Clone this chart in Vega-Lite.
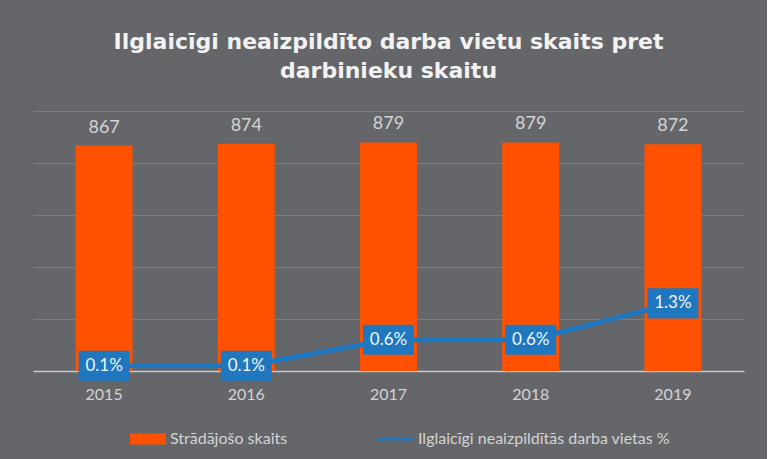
{
  "$schema": "https://vega.github.io/schema/vega-lite/v6.json",
  "autosize": {"type": "none"},
  "width": 711,
  "height": 260,
  "padding": {"left": 33, "top": 111, "right": 23, "bottom": 88},
  "background": "#65666a",
  "title": {
    "text": ["Ilglaicīgi neaizpildīto darba vietu skaits pret", "darbinieku skaitu"],
    "font": "DejaVu Sans",
    "fontSize": 22,
    "fontWeight": "bold",
    "color": "#f2f2f2",
    "anchor": "middle",
    "lineHeight": 29,
    "offset": 28
  },
  "config": {
    "view": {"stroke": null},
    "font": "Lato"
  },
  "data": {
    "values": [
      {"year": "2015", "count": 867, "pct": 0.001},
      {"year": "2016", "count": 874, "pct": 0.001},
      {"year": "2017", "count": 879, "pct": 0.006},
      {"year": "2018", "count": 879, "pct": 0.006},
      {"year": "2019", "count": 872, "pct": 0.013}
    ]
  },
  "encoding": {
    "x": {
      "field": "year",
      "type": "ordinal",
      "scale": {"paddingInner": 0.6, "paddingOuter": 0.3},
      "axis": {
        "title": null,
        "labelAngle": 0,
        "labelFont": "Lato",
        "labelFontSize": 16,
        "labelColor": "#d4d4d4",
        "labelPadding": 15,
        "ticks": false,
        "domainColor": "#c8c8c8",
        "domainWidth": 1.5,
        "grid": false
      }
    }
  },
  "layer": [
    {
      "layer": [
        {
          "mark": {"type": "bar", "color": "#ff5100"},
          "encoding": {
            "y": {
              "field": "count",
              "type": "quantitative",
              "scale": {"domain": [0, 1000]},
              "axis": {
                "title": null,
                "labels": false,
                "ticks": false,
                "domain": false,
                "values": [0, 200, 400, 600, 800, 1000],
                "gridColor": "#7c7d81",
                "gridWidth": 1
              }
            },
            "color": {
              "datum": "Strādājošo skaits",
              "type": "nominal",
              "scale": {
                "domain": ["Strādājošo skaits", "Ilglaicīgi neaizpildītās darba vietas %"],
                "range": ["#ff5100", "#1f77c0"]
              },
              "legend": {
                "title": null,
                "orient": "none",
                "legendX": 97,
                "legendY": 310,
                "direction": "horizontal",
                "labelFont": "Lato",
                "labelFontSize": 16,
                "labelColor": "#d4d4d4",
                "symbolSize": 1296,
                "symbolStrokeWidth": 0,
                "labelOffset": 4,
                "columnPadding": 90,
                "labelLimit": 400,
                "encode": {
                  "symbols": {
                    "update": {
                      "shape": {"signal": "datum.value === 'Strādājošo skaits' ? 'M-1,-0.3L1,-0.3L1,0.3L-1,0.3Z' : 'M-1,-0.08L1,-0.08L1,0.08L-1,0.08Z'"},
                      "fill": {"signal": "datum.value === 'Strādājošo skaits' ? '#ff5100' : '#1f77c0'"},
                      "stroke": {"value": "transparent"},
                      "opacity": {"value": 1}
                    }
                  }
                }
              }
            }
          }
        },
        {
          "mark": {"type": "text", "baseline": "alphabetic", "dy": -13, "fontSize": 18, "color": "#d4d4d4", "font": "Lato"},
          "encoding": {
            "y": {"field": "count", "type": "quantitative"},
            "text": {"field": "count", "type": "quantitative"}
          }
        }
      ]
    },
    {
      "layer": [
        {
          "mark": {"type": "line", "strokeWidth": 5, "color": "#1f77c0"},
          "encoding": {
            "y": {"field": "pct", "type": "quantitative", "scale": {"domain": [0, 0.05]}, "axis": null},
            "color": {"datum": "Ilglaicīgi neaizpildītās darba vietas %", "type": "nominal"}
          }
        },
        {
          "mark": {"type": "point", "shape": "M-1,-0.59L1,-0.59L1,0.59L-1,0.59Z", "size": 2601, "filled": true, "opacity": 1, "color": "#1f77c0"},
          "encoding": {
            "y": {"field": "pct", "type": "quantitative"}
          }
        },
        {
          "mark": {"type": "text", "baseline": "middle", "fontSize": 17, "color": "#f2f6fb", "font": "Lato"},
          "encoding": {
            "y": {"field": "pct", "type": "quantitative"},
            "text": {"field": "pct", "type": "quantitative", "format": ".1%"}
          }
        }
      ]
    }
  ],
  "resolve": {"scale": {"y": "independent"}}
}
